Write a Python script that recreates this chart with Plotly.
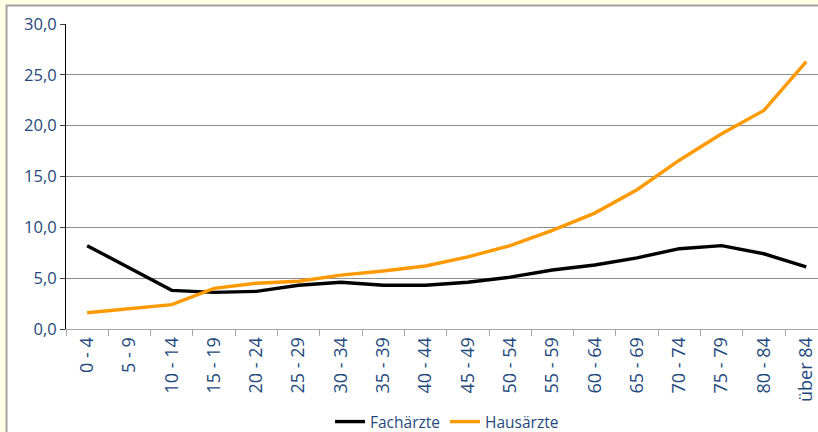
import plotly.graph_objects as go

categories = ["0 - 4", "5 - 9", "10 - 14", "15 - 19", "20 - 24", "25 - 29", "30 - 34",
              "35 - 39", "40 - 44", "45 - 49", "50 - 54", "55 - 59", "60 - 64", "65 - 69",
              "70 - 74", "75 - 79", "80 - 84", "über 84"]
fachaerzte = [8.2, 6.0, 3.8, 3.6, 3.7, 4.3, 4.6, 4.3, 4.3, 4.6, 5.1, 5.8, 6.3, 7.0, 7.9, 8.2, 7.4, 6.1]
hausaerzte = [1.6, 2.0, 2.4, 4.0, 4.5, 4.7, 5.3, 5.7, 6.2, 7.1, 8.2, 9.7, 11.4, 13.7, 16.6, 19.2, 21.5, 26.3]
y_ticks = [0, 5, 10, 15, 20, 25, 30]

W, H = 818, 432
L, T, B, R = 66, 24, 103, 0
pw, ph = W - L - R, H - T - B

def px_x(p):
    return (p - L) / pw

def px_y(p):
    return (H - B - p) / ph

text_color = "#1F497D"
font_family = "Open Sans"

fig = go.Figure()
fig.add_trace(go.Scatter(x=categories, y=fachaerzte, mode="lines", name="Fachärzte",
                         line=dict(color="#000000", width=3.4)))
fig.add_trace(go.Scatter(x=categories, y=hausaerzte, mode="lines", name="Hausärzte",
                         line=dict(color="#FF9900", width=3.4)))

fig.update_layout(
    width=W, height=H,
    margin=dict(l=L, r=R, t=T, b=B, pad=0, autoexpand=False),
    paper_bgcolor="#FFFFE6",
    plot_bgcolor="rgba(0,0,0,0)",
    separators=",.",
    font=dict(family=font_family, color=text_color, size=14),
    showlegend=True,
    legend=dict(orientation="h", xref="container", yref="container",
                x=447 / W, xanchor="center", y=(H - 422) / H, yanchor="middle",
                font=dict(size=15.5, color=text_color), bgcolor="rgba(0,0,0,0)",
                tracegroupgap=0),
    shapes=[dict(type="rect", xref="paper", yref="paper",
                 x0=px_x(6.5), x1=px_x(830), y0=px_y(5.5), y1=px_y(445),
                 fillcolor="#FFFFFF", line=dict(color="#A0A0A0", width=2), layer="below")],
)
fig.update_xaxes(
    type="category", range=[-0.5, -0.5 + pw / 42.3], automargin=False,
    showgrid=False, showline=True, linecolor="#A6A6A6", linewidth=1,
    ticks="outside", tickson="boundaries", ticklen=6, tickcolor="#A6A6A6",
    tickangle=-90, tickfont=dict(size=18, color=text_color), zeroline=False,
)
fig.update_yaxes(
    range=[0, 30], tickvals=y_ticks, tickformat=".1f", automargin=False,
    showgrid=True, gridcolor="#8C8C8C", gridwidth=1,
    showline=True, linecolor="#000000", linewidth=1,
    ticks="outside", ticklen=5, tickcolor="#404040",
    tickfont=dict(size=16.5, color=text_color), zeroline=False,
)

fig.write_html(
    "out.html",
    config={"displayModeBar": False},
    post_script="document.body.style.margin='0';document.body.style.padding='0';"
                "document.body.style.background='#FFFFE6';document.body.style.overflow='hidden';",
)
